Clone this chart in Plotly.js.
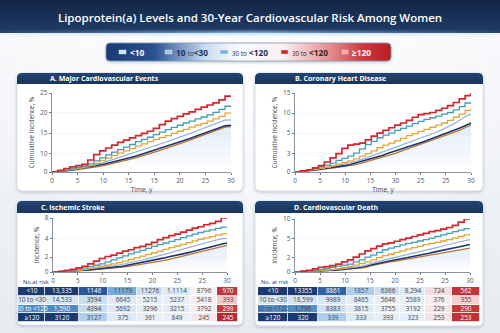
<!DOCTYPE html>
<html>
<head>
<meta charset="utf-8">
<script src="https://cdn.plot.ly/plotly-3.0.1.min.js"></script>
<style>
  html, body { margin: 0; padding: 0; background: #eef1f5; }
  #chart { width: 500px; height: 333px; }
</style>
</head>
<body>
<div id="chart"></div>
<script>
// ---------- data ----------
const years = [0,1,2,3,4,5,6,7,8,9,10,11,12,13,14,15,16,17,18,19,20,21,22,23,24,25,26,27,28,29,30];

// A. Major cardiovascular events
const mceRed   = [0,0.5,1.1,1.6,2.0,2.4,3.8,5.5,6.7,7.6,8.5,9.4,10.1,10.8,11.5,12.2,12.9,13.8,15.0,16.1,16.9,17.6,18.4,19.0,19.8,20.5,21.2,21.9,22.8,24.0,24.0];
const mceTeal  = [0,0.3,0.6,1.0,1.5,1.9,2.6,3.5,4.5,5.4,6.3,7.1,7.9,8.7,9.6,10.3,11.0,11.8,12.6,13.4,14.1,14.8,15.5,16.1,16.8,17.4,18.1,18.9,19.8,20.8,20.6];
const mceGold  = [0,0.2,0.5,0.8,1.2,1.6,2.1,2.7,3.6,4.4,5.2,6.0,6.7,7.4,8.2,8.9,9.6,10.3,10.9,11.5,12.2,12.9,13.5,14.2,14.8,15.4,16.1,16.8,17.6,18.6,18.6];
const mceSky   = [0,0.2,0.4,0.7,1.0,1.3,1.7,2.1,2.6,3.2,3.8,4.4,5.0,5.6,6.2,6.8,7.4,8.0,8.7,9.4,10.1,10.7,11.4,12.1,12.8,13.5,14.2,14.9,15.6,16.4,16.5];
const mceNavy  = [0,0.15,0.35,0.6,0.9,1.2,1.5,1.8,2.2,2.6,3.1,3.5,4.0,4.5,5.0,5.6,6.1,6.7,7.3,7.9,8.5,9.1,9.8,10.5,11.2,11.9,12.6,13.3,14.0,14.6,14.8];
const mceBrown = [0,0.1,0.25,0.45,0.7,0.95,1.2,1.5,1.8,2.2,2.6,3.0,3.5,4.0,4.5,5.0,5.6,6.2,6.8,7.4,8.0,8.7,9.3,10.0,10.7,11.4,12.1,12.8,13.5,14.2,14.4];
const mceXTicks = ['0','5','10','15','15','20','25','30'];
const mceYTicks = ['0','10','15','20','25'];

// B. Coronary heart disease
const chdRed   = [0,0.2,0.4,0.8,1.2,1.9,2.7,3.5,4.5,5.1,5.3,5.5,6.1,6.8,7.4,7.9,8.4,8.9,9.3,9.8,10.4,10.9,11.1,11.3,11.7,12.1,12.6,13.2,13.9,14.5,15.0];
const chdTeal  = [0,0.2,0.4,0.7,1.0,1.3,1.7,2.2,2.6,3.0,3.6,4.4,5.2,5.8,6.5,7.0,7.4,7.9,8.3,8.7,9.2,9.6,10.0,10.3,10.6,11.0,11.3,11.8,12.4,13.1,13.2];
const chdGold  = [0,0.1,0.3,0.5,0.7,0.9,1.2,1.5,1.8,2.1,2.5,3.0,3.5,4.0,4.6,5.1,5.5,5.9,6.4,6.9,7.3,7.7,8.1,8.5,8.9,9.3,9.8,10.4,11.0,11.7,12.0];
const chdSky   = [0,0.1,0.2,0.4,0.6,0.8,1.0,1.2,1.4,1.6,1.9,2.2,2.6,3.0,3.4,3.8,4.2,4.6,5.0,5.4,5.8,6.2,6.6,7.0,7.5,8.0,8.5,9.1,9.8,10.5,11.0];
const chdNavy  = [0,0.1,0.2,0.35,0.5,0.65,0.8,1.0,1.15,1.3,1.6,1.9,2.2,2.6,2.9,3.2,3.6,3.9,4.3,4.7,5.0,5.4,5.8,6.2,6.6,7.0,7.4,7.8,8.3,8.8,9.3];
const chdBrown = [0,0.05,0.15,0.3,0.4,0.55,0.7,0.85,1.0,1.1,1.35,1.6,1.9,2.2,2.5,2.8,3.2,3.5,3.9,4.3,4.6,5.0,5.4,5.8,6.2,6.6,7.0,7.4,7.9,8.4,8.9];
const chdXTicks = ['0','5','10','15','30','25','25','30'];
const chdYTicks = ['0','3','5','10','15'];

// C. Ischemic stroke
const strokeRed   = [0,0.1,0.25,0.4,0.6,0.85,1.2,1.6,2.0,2.3,2.5,2.8,3.1,3.3,3.6,3.8,4.1,4.4,4.8,5.1,5.4,5.6,5.9,6.2,6.5,6.7,7.0,7.2,7.5,8.0,8.0];
const strokeTeal  = [0,0.05,0.15,0.3,0.45,0.6,0.8,1.0,1.2,1.5,1.8,2.1,2.4,2.7,2.95,3.2,3.5,3.8,4.05,4.3,4.55,4.8,5.1,5.35,5.6,5.85,6.05,6.25,6.45,6.65,6.7];
const strokeGold  = [0,0.04,0.1,0.2,0.3,0.4,0.55,0.7,0.85,1.0,1.2,1.4,1.6,1.85,2.1,2.35,2.6,2.85,3.1,3.35,3.6,3.85,4.1,4.35,4.6,4.85,5.05,5.25,5.45,5.65,5.8];
const strokeSky   = [0,0.03,0.08,0.15,0.22,0.3,0.4,0.5,0.6,0.72,0.85,1.0,1.15,1.3,1.5,1.7,1.9,2.1,2.35,2.6,2.8,3.05,3.3,3.55,3.8,4.05,4.3,4.5,4.7,4.9,5.0];
const strokeNavy  = [0,0.03,0.07,0.12,0.18,0.25,0.32,0.4,0.48,0.56,0.65,0.75,0.85,1.05,1.2,1.35,1.5,1.65,1.85,2.05,2.25,2.4,2.6,2.8,3.0,3.25,3.5,3.7,3.9,4.1,4.3];
const strokeBrown = [0,0.02,0.05,0.1,0.15,0.2,0.26,0.32,0.39,0.46,0.54,0.62,0.72,0.82,0.95,1.08,1.22,1.36,1.52,1.7,1.88,2.06,2.26,2.46,2.68,2.9,3.1,3.3,3.5,3.75,3.95];
const strokeXTicks = ['0','5','10','15','20','25','25','30'];
const strokeYTicks = ['0','2','4','8'];

// D. Cardiovascular death
const cvdRed   = [0,0.15,0.3,0.6,0.9,1.0,1.2,1.5,1.9,2.3,2.8,3.4,4.0,4.4,4.9,5.3,5.5,5.8,6.1,6.4,6.7,7.0,7.3,7.6,7.8,8.1,8.4,8.8,9.4,10.0,10.1];
const cvdTeal  = [0,0.1,0.2,0.35,0.5,0.7,0.9,1.1,1.3,1.5,1.9,2.3,2.8,3.2,3.7,4.2,4.5,4.8,5.1,5.4,5.6,5.85,6.1,6.4,6.7,7.0,7.3,7.6,7.9,8.2,8.3];
const cvdGold  = [0,0.05,0.12,0.2,0.3,0.4,0.5,0.65,0.8,1.0,1.3,1.6,1.9,2.3,2.7,3.1,3.4,3.7,4.0,4.3,4.6,4.9,5.15,5.4,5.6,5.85,6.1,6.4,6.7,7.0,7.2];
const cvdSky   = [0,0.04,0.1,0.16,0.23,0.3,0.38,0.47,0.57,0.7,0.85,1.0,1.2,1.6,1.9,2.2,2.45,2.7,2.95,3.2,3.45,3.7,3.95,4.2,4.5,4.8,5.1,5.4,5.65,5.9,6.1];
const cvdNavy  = [0,0.03,0.07,0.12,0.18,0.25,0.32,0.4,0.5,0.6,0.72,0.85,1.1,1.35,1.6,1.85,2.05,2.25,2.45,2.65,2.85,3.05,3.3,3.55,3.8,4.0,4.2,4.45,4.7,4.95,5.2];
const cvdBrown = [0,0.02,0.05,0.09,0.14,0.2,0.26,0.33,0.41,0.5,0.6,0.72,0.85,1.15,1.4,1.65,1.85,2.0,2.2,2.4,2.55,2.7,2.9,3.1,3.3,3.5,3.7,3.9,4.1,4.3,4.5];
const cvdXTicks = ['0','5','10','15','20','25','25','30'];
const cvdYTicks = ['0','2','5','10'];

// Lp(a) categories and numbers at risk
const legendLabels = ['<10', '10 to <30', '30 to <120', '30 to <120', '≥120'];
const riskGroups = ['<10', '10 to <30', '30 to <120', '≥120'];
const mceAtRisk = [
  ['13,335','1146','11179','11276','1.1114','8796','970'],
  ['14,533','3594','6645','5215','5237','5418','393'],
  ['1,590','4394','5692','3296','3215','3792','299'],
  ['3120','3127','375','361','849','245','245']
];
const cvdAtRisk = [
  ['13355','8861','1857','6366','8,294','724','562'],
  ['18,599','9989','8465','5646','5589','376','355'],
  ['1,796','8383','3815','3755','3192','229','290'],
  ['320','339','333','393','323','253','253']
];

// ---------- styling ----------
const W = 500, H = 333;
const FONT = '"Open Sans", "Noto Sans", "DejaVu Sans", sans-serif';
const px = x => x / W;
const py = y => 1 - y / H;
const esc = s => s.replace(/&/g, '&amp;').replace(/</g, '&lt;').replace(/>/g, '&gt;');

// drawn bottom-to-top: brown, navy, sky, gold, teal, red
const lineStyles = [
  {color: '#b8772e', width: 1.3, shape: 'linear'},
  {color: '#1c3472', width: 1.6, shape: 'linear'},
  {color: '#8fb0da', width: 1.2, shape: 'linear'},
  {color: '#e7a431', width: 1.3, shape: 'hv'},
  {color: '#3d9fb8', width: 1.3, shape: 'hv'},
  {color: '#d6252d', width: 1.7, shape: 'hv'}
];

const panels = [
  {series: [mceBrown, mceNavy, mceSky, mceGold, mceTeal, mceRed], xTicks: mceXTicks, yTicks: mceYTicks,
   box: {l: 52, r: 231, t: 93, b: 172}, yMax: 25, yPos: [0, 5.8, 12.3, 18.7, 25],
   yTitle: 'Cumulative Incidence, %', xTitle: 'Time, y'},
  {series: [chdBrown, chdNavy, chdSky, chdGold, chdTeal, chdRed], xTicks: chdXTicks, yTicks: chdYTicks,
   box: {l: 295, r: 471, t: 93, b: 172}, yMax: 15, yPos: [0, 3.5, 7.4, 11.2, 15],
   yTitle: 'Cumulative Incidence, %', xTitle: 'Time, y'},
  {series: [strokeBrown, strokeNavy, strokeSky, strokeGold, strokeTeal, strokeRed], xTicks: strokeXTicks, yTicks: strokeYTicks,
   box: {l: 53, r: 227, t: 218, b: 272}, yMax: 8, yPos: [0, 2.22, 4.93, 8],
   yTitle: 'Incidence, %', xTitle: ''},
  {series: [cvdBrown, cvdNavy, cvdSky, cvdGold, cvdTeal, cvdRed], xTicks: cvdXTicks, yTicks: cvdYTicks,
   box: {l: 295, r: 470, t: 219, b: 272}, yMax: 10, yPos: [0, 2.75, 6.3, 10],
   yTitle: 'Incidence, %', xTitle: ''}
];

const cards = [
  {x: 17, y: 73, w: 226, h: 118, hh: 11, title: 'A. Major Cardiovascular Events', tx: 48, ty: 78.5},
  {x: 255, y: 73, w: 228, h: 118, hh: 11, title: 'B. Coronary Heart Disease', tx: 293, ty: 78.5},
  {x: 17, y: 201, w: 226, h: 124, hh: 12, title: 'C. Ischemic Stroke', tx: 39, ty: 207.5},
  {x: 255, y: 201, w: 228, h: 125, hh: 12, title: 'D. Cardiovascular Death', tx: 292, ty: 207.5}
];

// ---------- background art ----------
function backgroundSvg() {
  const cardArt = cards.map(c => {
    const r = 5;
    return `<rect x="${c.x}" y="${c.y}" width="${c.w}" height="${c.h}" rx="${r}" fill="#ffffff" stroke="#d0d8e4" stroke-width="0.8" filter="url(#sh)"/>` +
      `<path d="M${c.x},${c.y + c.hh} V${c.y + r} Q${c.x},${c.y} ${c.x + r},${c.y} H${c.x + c.w - r} Q${c.x + c.w},${c.y} ${c.x + c.w},${c.y + r} V${c.y + c.hh} Z" fill="url(#ph)"/>`;
  }).join('');
  return `<svg xmlns="http://www.w3.org/2000/svg" width="${W}" height="${H}" viewBox="0 0 ${W} ${H}">
  <defs>
    <linearGradient id="bg" x1="0" y1="0" x2="0" y2="1"><stop offset="0" stop-color="#f8f9fb"/><stop offset="1" stop-color="#e7ebf0"/></linearGradient>
    <radialGradient id="bgr" cx="0.5" cy="0.25" r="0.6"><stop offset="0" stop-color="#ffffff" stop-opacity="0.9"/><stop offset="1" stop-color="#ffffff" stop-opacity="0"/></radialGradient>
    <linearGradient id="hd" x1="0" y1="0" x2="0" y2="1"><stop offset="0" stop-color="#132646"/><stop offset="1" stop-color="#1f3c68"/></linearGradient>
    <linearGradient id="glow" x1="0" y1="0" x2="1" y2="0"><stop offset="0" stop-color="#7fb8ea" stop-opacity="0.15"/><stop offset="0.5" stop-color="#b6defc" stop-opacity="1"/><stop offset="1" stop-color="#7fb8ea" stop-opacity="0.15"/></linearGradient>
    <linearGradient id="lg" x1="0" y1="0" x2="1" y2="0">
      <stop offset="0" stop-color="#1a3a72"/><stop offset="0.17" stop-color="#2a5292"/>
      <stop offset="0.35" stop-color="#c9dcf0"/><stop offset="0.46" stop-color="#f7fafd"/>
      <stop offset="0.62" stop-color="#fbf1f2"/><stop offset="0.79" stop-color="#e48b8e"/>
      <stop offset="0.9" stop-color="#cc383c"/><stop offset="1" stop-color="#b81f26"/>
    </linearGradient>
    <linearGradient id="ph" x1="0" y1="0" x2="0" y2="1"><stop offset="0" stop-color="#234472"/><stop offset="1" stop-color="#1a345c"/></linearGradient>
    <filter id="sh" x="-10%" y="-10%" width="120%" height="130%"><feDropShadow dx="0" dy="1.2" stdDeviation="1.8" flood-color="#54698a" flood-opacity="0.35"/></filter>
    <filter id="bl" x="-5%" y="-200%" width="110%" height="500%"><feGaussianBlur stdDeviation="1.4"/></filter>
  </defs>
  <rect width="${W}" height="${H}" fill="url(#bg)"/>
  <rect width="${W}" height="${H}" fill="url(#bgr)"/>
  <rect width="${W}" height="33" fill="url(#hd)"/>
  <rect x="0" y="31.5" width="${W}" height="3" fill="url(#glow)" filter="url(#bl)"/>
  <rect x="106" y="43" width="285" height="18" rx="4" fill="url(#lg)" stroke="#8797b0" stroke-width="0.8" filter="url(#sh)"/>
  ${cardArt}
</svg>`;
}

// ---------- traces and axes ----------
const data = [];
const layout = {
  width: W, height: H,
  margin: {l: 0, r: 0, t: 0, b: 0},
  paper_bgcolor: 'rgba(0,0,0,0)',
  plot_bgcolor: 'rgba(0,0,0,0)',
  showlegend: false,
  font: {family: FONT, color: '#3c4556'},
  title: {
    text: 'Lipoprotein(a) Levels and 30-Year Cardiovascular Risk Among Women',
    x: 0.5, xanchor: 'center', y: py(18), yanchor: 'middle',
    font: {family: FONT, size: 11.5, color: '#ffffff', weight: 600}
  },
  images: [{
    source: 'data:image/svg+xml;charset=utf-8,' + encodeURIComponent(backgroundSvg()),
    xref: 'paper', yref: 'paper', x: 0, y: 1, sizex: 1, sizey: 1,
    xanchor: 'left', yanchor: 'top', sizing: 'stretch', layer: 'below'
  }],
  shapes: [],
  annotations: []
};

const axisLine = '#6f7785';
panels.forEach((p, i) => {
  const sfx = i === 0 ? '' : String(i + 1);
  p.series.forEach((ys, j) => {
    const st = lineStyles[j];
    const tr = {
      type: 'scatter', mode: 'lines', x: years, y: ys,
      xaxis: 'x' + sfx, yaxis: 'y' + sfx,
      line: {color: st.color, width: st.width, shape: st.shape},
      hoverinfo: 'skip', cliponaxis: false
    };
    if (j === 0) {
      // soft blue haze under the lowest curve
      tr.fill = 'tozeroy';
      tr.fillgradient = {type: 'vertical', colorscale: [[0, 'rgba(165,198,236,0)'], [1, 'rgba(165,198,236,0.32)']]};
    }
    data.push(tr);
  });
  const n = p.xTicks.length;
  layout['xaxis' + sfx] = {
    domain: [px(p.box.l), px(p.box.r)], anchor: 'y' + sfx, range: [0, 30],
    tickmode: 'array', tickvals: p.xTicks.map((_, k) => k * 30 / (n - 1)), ticktext: p.xTicks,
    showline: true, linecolor: axisLine, linewidth: 0.8, ticks: 'outside', ticklen: 2.5, tickcolor: axisLine,
    tickfont: {size: 6.5, color: '#4f5868', family: FONT}, showgrid: false, zeroline: false, fixedrange: true,
    title: p.xTitle ? {text: p.xTitle, font: {size: 6.5, color: '#3c4556', family: FONT}, standoff: 2} : {text: ''}
  };
  layout['yaxis' + sfx] = {
    domain: [py(p.box.b), py(p.box.t)], anchor: 'x' + sfx, range: [0, p.yMax],
    tickmode: 'array', tickvals: p.yPos, ticktext: p.yTicks,
    showline: true, linecolor: axisLine, linewidth: 0.8, ticks: 'outside', ticklen: 2.5, tickcolor: axisLine,
    tickfont: {size: 6.5, color: '#4f5868', family: FONT},
    showgrid: true, gridcolor: '#eceff4', gridwidth: 0.6, zeroline: false, fixedrange: true,
    title: {text: p.yTitle, font: {size: 6.3, color: '#3c4556', family: FONT}, standoff: 4}
  };
});

// ---------- numbers-at-risk tables (heatmaps) ----------
const tableShadeScale = [
  [0, '#1b3a70'], [0.1, '#2a5596'], [0.2, '#4f8ac5'], [0.3, '#86b6e0'], [0.4, '#c6dbef'],
  [0.5, '#f3f6fa'], [0.55, '#f6ecee'], [0.65, '#f3cfd2'], [0.8, '#dc7478'], [0.9, '#c93a3c'], [1, '#b0262a']
];
const mceShade = [
  [-1, -1, -0.8, -0.45, -0.17, -0.1, 0.03, 0.85],
  [-0.12, -0.12, -0.18, -0.09, -0.05, -0.05, 0.08, 0.32],
  [-0.6, -0.6, -0.2, -0.11, -0.07, -0.07, 0.11, 0.8],
  [-1, -1, -0.27, -0.1, -0.06, -0.05, 0.13, 0.95]
];
const cvdShade = [
  [-1, -1, -0.75, -0.27, -0.18, -0.1, 0.22, 0.86],
  [-0.12, -0.12, -0.11, -0.07, -0.05, -0.05, 0.1, 0.3],
  [-0.58, -0.58, -0.16, -0.08, -0.06, -0.05, 0.15, 0.82],
  [-1, -1, -0.27, -0.1, -0.07, -0.06, 0.17, 0.88]
];
const tables = [
  {rows: mceAtRisk, shade: mceShade, widths: [27, 34, 29, 29, 26, 28, 26, 21], l: 18, r: 238, t: 287, b: 322,
   note: 'No.at risk', nx: 21},
  {rows: cvdAtRisk, shade: cvdShade, widths: [30, 30, 29, 28, 25, 25, 27, 28], l: 258, r: 480, t: 287, b: 322,
   note: 'No. at risk', nx: 259}
];
tables.forEach((tb, i) => {
  const sfx = String(5 + i);
  const edges = [0];
  tb.widths.forEach(w => edges.push(edges[edges.length - 1] + w));
  const text = tb.rows.map((r, k) => [esc(riskGroups[k])].concat(r));
  data.push({
    type: 'heatmap', x: edges, y: [0, 1, 2, 3, 4], z: tb.shade, text: text,
    texttemplate: '%{text}', textfont: {size: 6.4, family: FONT},
    colorscale: tableShadeScale, zmin: -1, zmax: 1, showscale: false,
    xgap: 0.8, ygap: 0.8, hoverinfo: 'skip',
    xaxis: 'x' + sfx, yaxis: 'y' + sfx
  });
  layout['xaxis' + sfx] = {domain: [px(tb.l), px(tb.r)], anchor: 'y' + sfx, range: [0, edges[edges.length - 1]], visible: false, fixedrange: true};
  layout['yaxis' + sfx] = {domain: [py(tb.b), py(tb.t)], anchor: 'x' + sfx, range: [4, 0], visible: false, fixedrange: true};
  layout.annotations.push({
    text: tb.note, xref: 'paper', yref: 'paper', x: px(tb.nx), y: py(282), xanchor: 'left', yanchor: 'middle',
    showarrow: false, font: {size: 5.8, color: '#2a3550', family: FONT}
  });
});

// ---------- panel headings ----------
cards.forEach(c => {
  layout.annotations.push({
    text: c.title, xref: 'paper', yref: 'paper', x: px(c.tx), y: py(c.ty), xanchor: 'left', yanchor: 'middle',
    showarrow: false, font: {size: 7, color: '#ffffff', family: FONT, weight: 700}
  });
});

// ---------- Lp(a) key ----------
const keyItems = [
  {sw: [119, 126], tx: 128, swColor: '#cfe1f4', color: '#ffffff'},
  {sw: [165, 172], tx: 173.5, swColor: '#a7c4e4', color: '#1a3160'},
  {sw: [220, 228], tx: 229.5, swColor: '#7fb0de', color: '#1a3160'},
  {sw: [281, 288], tx: 289.5, swColor: '#c8262c', color: '#3b1f2a'},
  {sw: [342, 348], tx: 349.5, swColor: '#f2a6a9', color: '#ffffff'}
];
function keyText(label, i) {
  // the connecting word "to" is set smaller; for the upper groups the lower bound too
  const m = label.match(/^(\S+) to (.*)$/);
  if (!m) return '<b>' + esc(label) + '</b>';
  if (i === 1) return '<b>' + esc(m[1]) + '</b> <span style="font-size:6.3px">to</span><b>' + esc(m[2]) + '</b>';
  return '<span style="font-size:6.3px">' + esc(m[1]) + ' to</span> <b>' + esc(m[2]) + '</b>';
}
keyItems.forEach((k, i) => {
  layout.shapes.push({
    type: 'rect', xref: 'paper', yref: 'paper',
    x0: px(k.sw[0]), x1: px(k.sw[1]), y0: py(54), y1: py(50),
    fillcolor: k.swColor, line: {color: 'rgba(255,255,255,0.7)', width: 0.5}
  });
  layout.annotations.push({
    text: keyText(legendLabels[i], i), xref: 'paper', yref: 'paper', x: px(k.tx), y: py(52), xanchor: 'left', yanchor: 'middle',
    showarrow: false, font: {size: 8.3, color: k.color, family: FONT}
  });
});

Plotly.newPlot('chart', data, layout, {staticPlot: true, displayModeBar: false});
</script>
</body>
</html>
